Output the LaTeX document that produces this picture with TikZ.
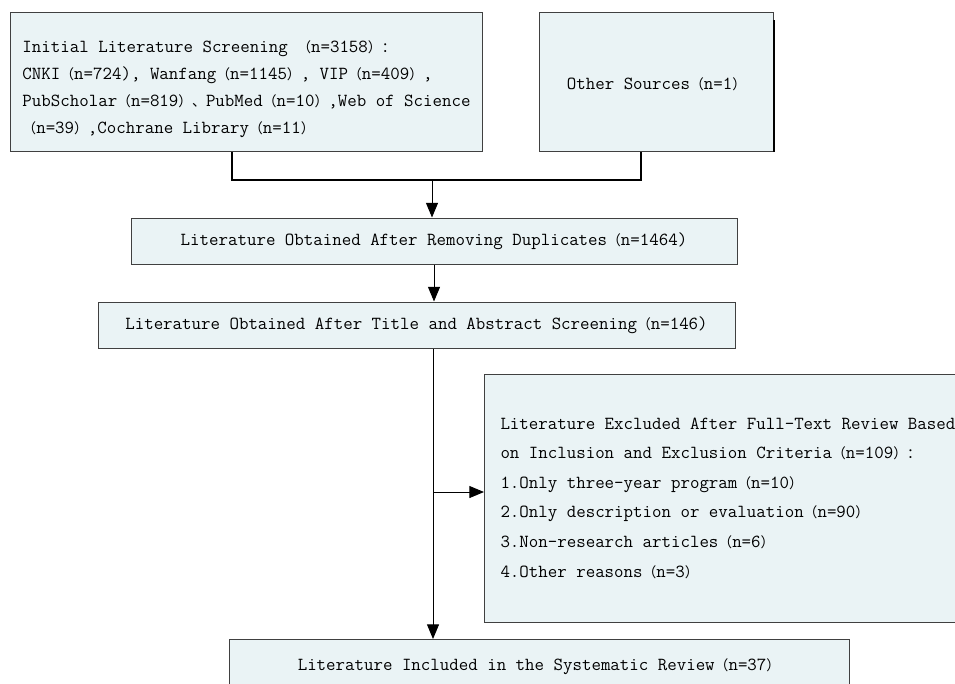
\documentclass[tikz,border=0pt]{standalone}
\usepackage{fontspec}
\setmainfont{Latin Modern Mono}
\newfontfamily\cjk{Noto Sans CJK SC}[Scale=0.75]
\usetikzlibrary{arrows.meta}
\definecolor{boxfill}{HTML}{EAF3F5}
\definecolor{boxline}{HTML}{404040}
\newcommand{\zl}{{\cjk （}}
\newcommand{\zr}{{\cjk ）}}
\newcommand{\zc}{{\cjk ：}}
\newcommand{\zd}{{\cjk 、}}

\begin{document}
\begin{tikzpicture}[x=0.75pt, y=-0.75pt,
  flowbox/.style={draw=boxline, fill=boxfill, line width=0.75pt, inner sep=0pt,
    align=center, font=\fontsize{13.8}{20.25}\selectfont},
  link/.style={arrows=-{Triangle[width=9pt,length=11pt]}, line width=0.75pt},
  mergeline/.style={line width=1.5pt}]
\clip (0,0) rectangle (955,683);

\node (search)[flowbox, anchor=north west, minimum width=354pt, minimum height=104.25pt, align=left] at (10,12)
  {\rule{0pt}{20pt}Initial Literature Screening \zl n=3158\zr\zc\\
   CNKI\zl n=724), Wanfang\zl n=1145\zr, VIP\zl n=409\zr,\\
   PubScholar\zl n=819\zr\zd PubMed\zl n=10\zr,Web of Science\\
   \zl n=39\zr,Cochrane Library\zl n=11\zr};
\node (other)[flowbox, anchor=north west, minimum width=175.5pt, minimum height=104.25pt] at (539,12)
  {\rule{0pt}{12pt}Other Sources\zl n=1\zr};
\node (dedup)[flowbox, minimum width=454.5pt, minimum height=34.5pt] at (434,241)
  {Literature Obtained After Removing Duplicates\zl n=1464)};
\node (title)[flowbox, minimum width=477.75pt, minimum height=34.5pt] at (416.5,325)
  {Literature Obtained After Title and Abstract Screening\zl n=146)};
\node (excl)[flowbox, anchor=west, minimum height=186pt, inner xsep=12pt, align=left,
  font=\fontsize{13.8}{22.2}\selectfont] at (484,498)
  {Literature Excluded After Full-Text Review Based\\
   on Inclusion and Exclusion Criteria\zl n=109\zr\zc\\
   1.Only three-year program\zl n=10\zr\\
   2.Only description or evaluation\zl n=90\zr\\
   3.Non-research articles\zl n=6\zr\\
   4.Other reasons\zl n=3\zr};
\node (incl)[flowbox, anchor=north, minimum width=465pt, minimum height=40.5pt] at (539,639)
  {Literature Included in the Systematic Review\zl n=37\zr};

\coordinate (merge) at (432,180);
\coordinate (tap) at (433,492);

\draw[mergeline] ([xshift=-11.25pt]search.south) |- (merge) -| ([xshift=-12pt]other.south);
\draw[line width=1.5pt] ([yshift=-6pt]other.north east) -- (other.south east);
\draw[link] (merge) -- (merge |- dedup.north);
\draw[link] (dedup.south) -- (dedup.south |- title.north);
\draw[link] (title.south -| tap) -- (incl.north -| tap);
\draw[link] (tap) -- (tap -| excl.west);

\end{tikzpicture}
\end{document}
